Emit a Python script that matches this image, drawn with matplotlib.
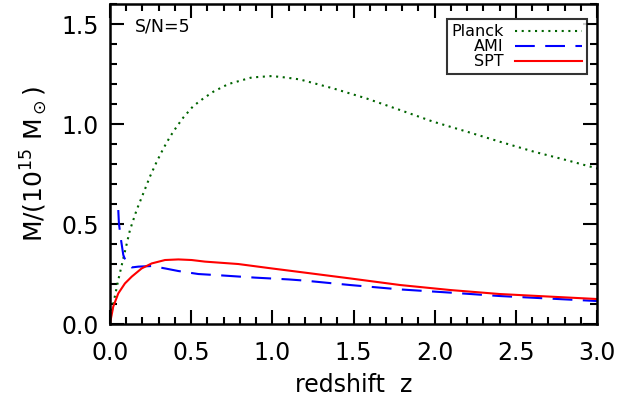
import matplotlib
matplotlib.use("Agg")
import matplotlib.pyplot as plt
from matplotlib.ticker import MultipleLocator

planck_z = [0.0, 0.008, 0.051, 0.082, 0.123, 0.164, 0.205, 0.246, 0.288, 0.329, 0.37, 0.411,
            0.452, 0.513, 0.575, 0.637, 0.729, 0.873, 0.996, 1.08, 1.17, 1.376, 1.58, 1.787,
            1.99, 2.198, 2.40, 2.61, 2.81, 3.0]
planck_m = [0.0, 0.053, 0.22, 0.328, 0.47, 0.57, 0.653, 0.737, 0.812, 0.878, 0.937, 0.987,
            1.033, 1.09, 1.128, 1.162, 1.2, 1.233, 1.24, 1.233, 1.223, 1.178, 1.128, 1.07,
            1.012, 0.962, 0.912, 0.862, 0.82, 0.778]

ami_z = [0.051, 0.055, 0.068, 0.082, 0.103, 0.134, 0.175, 0.257, 0.339, 0.421, 0.544, 0.688,
         0.893, 1.10, 1.20, 1.479, 1.787, 2.095, 2.40, 2.71, 3.0]
ami_m = [0.57, 0.503, 0.42, 0.345, 0.303, 0.283, 0.287, 0.29, 0.278, 0.265, 0.25, 0.243,
         0.232, 0.223, 0.217, 0.195, 0.173, 0.157, 0.14, 0.127, 0.115]

spt_z = [0.0, 0.006, 0.02, 0.051, 0.092, 0.134, 0.195, 0.257, 0.339, 0.421, 0.503, 0.585,
         0.79, 0.996, 1.20, 1.479, 1.787, 2.095, 2.40, 2.71, 3.0]
spt_m = [0.0, 0.028, 0.087, 0.153, 0.203, 0.237, 0.278, 0.303, 0.32, 0.323, 0.32, 0.312,
         0.30, 0.278, 0.257, 0.228, 0.195, 0.17, 0.15, 0.137, 0.125]

fig = plt.figure(figsize=(6.19, 4.07), dpi=100)
ax = fig.add_axes([0.1777, 0.2039, 0.9645 - 0.1777, 0.990 - 0.2039])

ax.plot(planck_z, planck_m, color="#006400", linestyle=(0, (1, 2.2)), lw=1.5, label="Planck")
ax.plot(ami_z, ami_m, color="#0000ff", linestyle=(0, (9.5, 5)), lw=1.5, label="AMI")
ax.plot(spt_z, spt_m, color="#ff0000", linestyle="-", lw=1.5, label="SPT")

ax.set_xlim(0, 3.0)
ax.set_ylim(0, 1.6)
ax.xaxis.set_major_locator(MultipleLocator(0.5))
ax.xaxis.set_minor_locator(MultipleLocator(0.1))
ax.yaxis.set_major_locator(MultipleLocator(0.5))
ax.yaxis.set_minor_locator(MultipleLocator(0.1))
ax.xaxis.set_major_formatter(plt.FormatStrFormatter("%.1f"))
ax.yaxis.set_major_formatter(plt.FormatStrFormatter("%.1f"))
ax.tick_params(which="both", direction="in", top=True, right=True, width=1.5)
ax.tick_params(which="major", length=10, labelsize=17, pad=8)
ax.tick_params(which="minor", length=5)
ax.tick_params(axis="x", pad=12)
for s in ax.spines.values():
    s.set_linewidth(1.8)

ax.set_xlabel("redshift  z", fontsize=17, labelpad=6)
ax.set_ylabel(r"M/(10$^{15}$ M$_\odot$)", fontsize=18, labelpad=8)

ax.text(0.051, 0.93, "S/N=5", transform=ax.transAxes, fontsize=12.5, va="center", ha="left")

leg = ax.legend(loc="upper right", bbox_to_anchor=(0.9795, 0.952), markerfirst=False,
                fontsize=11.5, frameon=True, fancybox=False, edgecolor="black",
                handlelength=4.2, labelspacing=0.0, borderpad=0.3, handletextpad=0.7,
                borderaxespad=0)
leg.get_frame().set_linewidth(1.5)

fig.savefig("out.png", dpi=100)
